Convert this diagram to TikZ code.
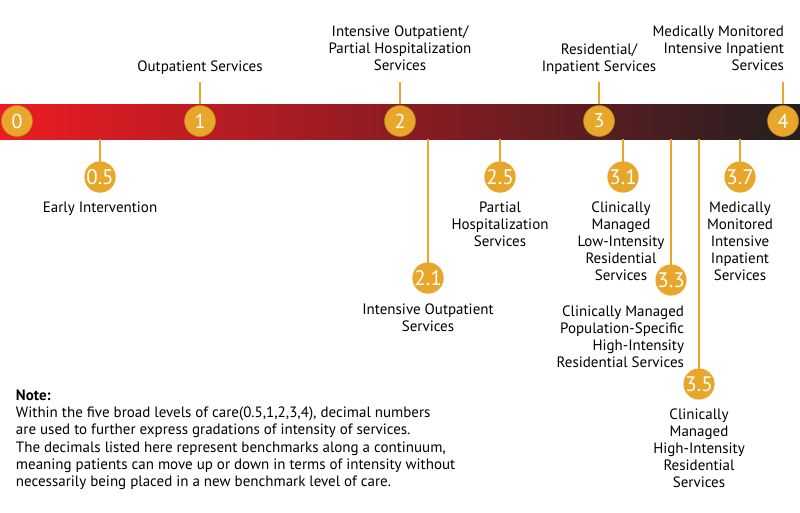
\documentclass[tikz,border=0pt]{standalone}
\usepackage{fontspec}
\setmainfont{PT Sans}
\usetikzlibrary{positioning,calc}
\definecolor{gold}{HTML}{E8A62A}
\definecolor{barL}{HTML}{ED1C24}
\definecolor{barM}{HTML}{8C1C22}
\definecolor{barR}{HTML}{231F20}
\tikzset{
	continuum/.style={
		x=1pt, y=-1pt,
		node distance=9pt,
		every node/.style={outer sep=0pt}},
	level/.style={circle, fill=gold, draw=gold!80!black, line width=.5pt,
		text=white, minimum size=31pt, inner sep=0pt,
		font=\fontsize{20}{20}\selectfont},
	sublevel/.style={level, draw=none, font=\fontsize{21}{21}\selectfont},
	stem/.style={draw=gold, line width=2.6pt},
	band/.style={minimum width=800pt, minimum height=35pt, inner sep=0pt,
		left color=barL, right color=barR, middle color=barM},
	desc/.style={align=center, inner sep=0pt,
		font=\fontsize{15}{17}\selectfont},
	note/.style={align=left, inner sep=0pt, anchor=north west,
		font=\fontsize{15}{17.2}\selectfont}
}

\begin{document}
\begin{tikzpicture}[continuum]
	\useasboundingbox (0,0) rectangle (800,512);
	\coordinate (stemtop) at (0,82);
	% stems above the band
	\foreach \x in {200,400,599,783}
		\draw[stem] (\x,121) -- (\x,0 |- stemtop);
	\node[band] (bar) at (400,121.5) {};
	% main levels
	\foreach \n/\x in {0/17,1/200,2/400,3/599,4/783}
		\node[level] (l\n) at (\x,121) {\n};
	% decimal levels hanging below the band
	\foreach \n/\t/\x/\y in {05/0.5/100/177, 21/2.1/428/278, 25/2.5/500/177,
			31/3.1/623/177, 33/3.3/671/280, 35/3.5/699/384, 37/3.7/740/177} {
		\draw[stem] (\x,0 |- bar.south) -- (\x,\y);
		\node[sublevel] (d\n) at (\x,\y) {\t};
	}
	% labels
	\node[desc, above=31.5pt of l1] (t1) {Outpatient Services};
	\node[desc, above=35pt of l2] (t2) {Intensive Outpatient/\\Partial Hospitalization\\Services};
	\node[desc, above=31.5pt of l3] (t3) {Residential/\\Inpatient Services};
	\node[desc, above=35pt of l4, anchor=south east, xshift=1pt, align=right] (t4)
		{Medically Monitored\\Intensive Inpatient\\Services};
	\node[desc, below=of d05] (s05) {Early Intervention};
	\node[desc, below=10.5pt of d21] (s21) {Intensive Outpatient\\Services};
	\node[desc, below=of d25] (s25) {Partial\\Hospitalization\\Services};
	\node[desc, below=of d31, xshift=-2pt] (s31) {Clinically\\Managed\\Low-Intensity\\Residential\\Services};
	\node[desc, below=10pt of d33, anchor=north east, xshift=13pt, align=right] (s33)
		{Clinically Managed\\Population-Specific\\High-Intensity\\Residential Services};
	\node[desc, below=of d35] (s35) {Clinically\\Managed\\High-Intensity\\Residential\\Services};
	\node[desc, below=of d37] (s37) {Medically\\Monitored\\Intensive\\Inpatient\\Services};
	\node[note] (remark) at (16,390) {\textbf{Note:}\\
		Within the five broad levels of care(0.5,1,2,3,4), decimal numbers\\
		are used to further express gradations of intensity of services.\\
		The decimals listed here represent benchmarks along a continuum,\\
		meaning patients can move up or down in terms of intensity without\\
		necessarily being placed in a new benchmark level of care.};
\end{tikzpicture}
\end{document}
